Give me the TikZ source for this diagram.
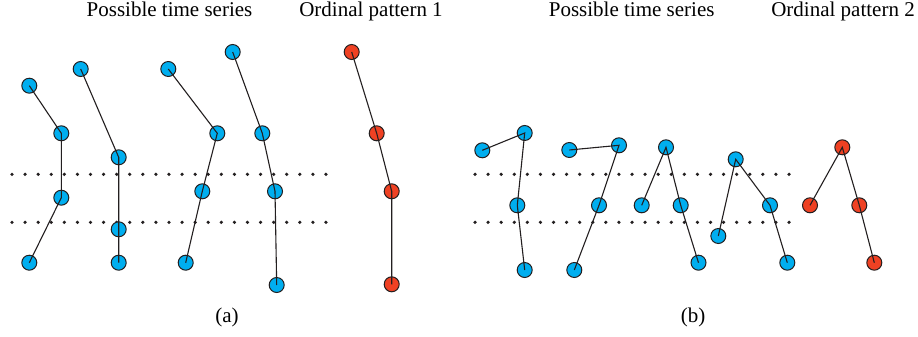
\documentclass[tikz,border=0pt]{standalone}
\usepackage{fontspec}
\setmainfont{Liberation Serif}
\definecolor{ptblue}{RGB}{0,174,239}
\definecolor{ptred}{RGB}{239,65,35}
\definecolor{ptline}{RGB}{35,31,32}
\begin{document}
\begin{tikzpicture}[x=1pt,y=-1pt,
  sample/.style={circle,draw=ptline,line width=1pt,fill=ptblue,minimum size=15pt,inner sep=0pt},
  ordinal/.style={sample,fill=ptred},
  link/.style={draw=ptline,line width=1.1pt},
  caption/.style={font=\fontsize{21}{24}\selectfont,anchor=base,inner sep=0pt}]
\useasboundingbox (0,0) rectangle (918,337);

% dotted threshold rows
\foreach \y in {174.3,222.3}{
  \foreach \i in {0,...,24}{
    \fill[ptline] (12+\i*13.083,\y) circle (1.8pt);
    \fill[ptline] (475+\i*13.083,\y) circle (1.8pt);
  }
}

% panel (a): possible time series
\node[sample] (a11) at (29.3,85.7) {};
\node[sample] (a12) at (61.3,133.3) {};
\node[sample] (a13) at (61.3,197.7) {};
\node[sample] (a14) at (29.3,262.7) {};
\node[sample] (a21) at (80.7,69) {};
\node[sample] (a22) at (118.7,157.3) {};
\node[sample] (a23) at (118.7,229.3) {};
\node[sample] (a24) at (118.7,262.7) {};
\node[sample] (a31) at (168.3,69) {};
\node[sample] (a32) at (217.3,133.3) {};
\node[sample] (a33) at (202.3,191.3) {};
\node[sample] (a34) at (185.7,262.7) {};
\node[sample] (a41) at (232.7,52) {};
\node[sample] (a42) at (262.3,133.3) {};
\node[sample] (a43) at (275,191.3) {};
\node[sample] (a44) at (276.7,285) {};
% ordinal pattern 1
\node[ordinal] (p11) at (351.7,52) {};
\node[ordinal] (p12) at (376.7,133.3) {};
\node[ordinal] (p13) at (391.7,191.3) {};
\node[ordinal] (p14) at (391.7,284.3) {};

% panel (b): possible time series
\node[sample] (b11) at (482.3,150.3) {};
\node[sample] (b12) at (524.7,133) {};
\node[sample] (b13) at (517.3,205.3) {};
\node[sample] (b14) at (524.7,270) {};
\node[sample] (b21) at (569.3,150) {};
\node[sample] (b22) at (619,145.3) {};
\node[sample] (b23) at (599,205.3) {};
\node[sample] (b24) at (574.3,270) {};
\node[sample] (b31) at (641.7,205.3) {};
\node[sample] (b32) at (666,147.3) {};
\node[sample] (b33) at (680.7,205.3) {};
\node[sample] (b34) at (698.5,262.7) {};
\node[sample] (b41) at (718.3,236) {};
\node[sample] (b42) at (735.7,159.3) {};
\node[sample] (b43) at (770,205.3) {};
\node[sample] (b44) at (787.3,262.7) {};
% ordinal pattern 2
\node[ordinal] (p21) at (810,205.3) {};
\node[ordinal] (p22) at (842.3,147.3) {};
\node[ordinal] (p23) at (859.3,205.3) {};
\node[ordinal] (p24) at (874.3,262.7) {};

% connectors through the sample centres
\foreach \s in {a1,a2,a3,a4,p1,b1,b2,b3,b4,p2}{
  \draw[link] (\s1.center) -- (\s2.center) -- (\s3.center) -- (\s4.center);
}

% headings and panel labels
\node[caption] (t1) at (169.5,17) {Possible time series};
\node[caption] (t2) at (371,17) {Ordinal pattern 1};
\node[caption] (t3) at (631.7,17) {Possible time series};
\node[caption] (t4) at (843,17) {Ordinal pattern 2};
\node[caption] (la) at (227,322) {(a)};
\node[caption] (lb) at (693,322) {(b)};
\end{tikzpicture}
\end{document}
